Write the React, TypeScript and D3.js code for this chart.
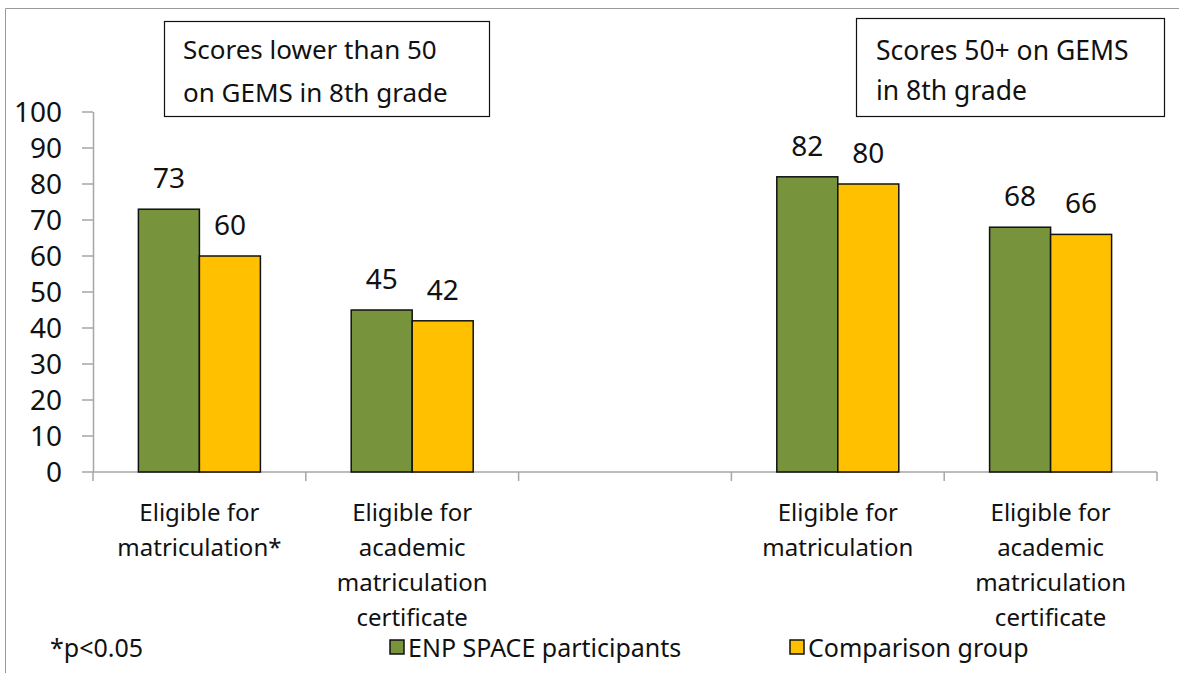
import React from "react";
import * as d3 from "d3";

const categories = [
  ["Eligible for", "matriculation*"],
  ["Eligible for", "academic", "matriculation", "certificate"],
  [],
  ["Eligible for", "matriculation"],
  ["Eligible for", "academic", "matriculation", "certificate"],
];
const participants: (number | null)[] = [73, 45, null, 82, 68];
const comparison: (number | null)[] = [60, 42, null, 80, 66];
const seriesNames = ["ENP SPACE participants", "Comparison group"];
const seriesColors = ["#77933C", "#FFC000"];
const yTicks = [0, 10, 20, 30, 40, 50, 60, 70, 80, 90, 100];
const boxLeft = ["Scores lower than 50", "on GEMS in 8th grade"];
const boxRight = ["Scores 50+ on GEMS", "in 8th grade"];
const footnote = "*p<0.05";

const FONT = "'Noto Sans', 'Open Sans', sans-serif";

export default function App() {
  const W = 1179, H = 673;
  const x0 = 93, x1 = 1157;
  const yScale = d3.scaleLinear().domain([0, 100]).range([472, 112]);
  const xBand = d3.scaleBand<number>().domain(d3.range(categories.length)).range([x0, x1]);
  const barW = 61;
  const series = [participants, comparison];

  return (
    <svg width={W} height={H} style={{ position: "absolute", left: 0, top: 0, background: "#fff" }} fontFamily={FONT}>
      {/* frame */}
      <line x1={5.5} y1={8.5} x2={W} y2={8.5} stroke="#9a9a9a" strokeWidth={1} />
      <line x1={5.5} y1={8.5} x2={5.5} y2={H} stroke="#9a9a9a" strokeWidth={1} />

      {/* y axis */}
      <line x1={x0 + 0.5} y1={yScale(100)} x2={x0 + 0.5} y2={yScale(0)} stroke="#a6a6a6" strokeWidth={1.5} />
      {yTicks.map((t) => (
        <g key={t}>
          <line x1={82} x2={x0} y1={yScale(t)} y2={yScale(t)} stroke="#a6a6a6" strokeWidth={1.5} />
          <text x={62} y={yScale(t)} dy="0.36em" textAnchor="end" fontSize={28} fill="#111">{t}</text>
        </g>
      ))}

      {/* x axis */}
      <line x1={x0} x2={x1} y1={yScale(0)} y2={yScale(0)} stroke="#a6a6a6" strokeWidth={1.5} />
      {d3.range(categories.length + 1).map((i) => {
        const xx = x0 + xBand.step() * i;
        return <line key={i} x1={xx} x2={xx} y1={yScale(0)} y2={yScale(0) + 9} stroke="#a6a6a6" strokeWidth={1.5} />;
      })}

      {/* bars */}
      {series.map((vals, s) =>
        vals.map((v, i) => {
          if (v == null) return null;
          const cx = (xBand(i) as number) + xBand.bandwidth() / 2;
          const bx = cx - barW + s * barW;
          return (
            <g key={`${s}-${i}`}>
              <rect x={bx} y={yScale(v)} width={barW} height={yScale(0) - yScale(v)} fill={seriesColors[s]} stroke="#111" strokeWidth={1.5} />
              <text x={bx + barW / 2} y={yScale(v) - 31} dy="0.36em" textAnchor="middle" fontSize={28} fill="#111">{v}</text>
            </g>
          );
        })
      )}

      {/* category labels */}
      {categories.map((lines, i) => {
        const cx = (xBand(i) as number) + xBand.bandwidth() / 2;
        return (
          <text key={i} x={cx} textAnchor="middle" fontSize={24} fill="#111">
            {lines.map((l, j) => (
              <tspan key={j} x={cx} y={512 + j * 35} dy="0.36em">{l}</tspan>
            ))}
          </text>
        );
      })}

      {/* annotation boxes */}
      <rect x={164.5} y={21.5} width={325} height={95} fill="#fff" stroke="#111" strokeWidth={1.2} />
      {boxLeft.map((l, j) => (
        <text key={j} x={183} y={50 + j * 43} dy="0.36em" fontSize={26} fill="#111">{l}</text>
      ))}
      <rect x={856.5} y={18.5} width={308} height={98} fill="#fff" stroke="#111" strokeWidth={1.2} />
      {boxRight.map((l, j) => (
        <text key={j} x={876} y={50 + j * 40} dy="0.36em" fontSize={26.5} fill="#111">{l}</text>
      ))}

      {/* footer / legend */}
      <text x={50} y={648} dy="0.36em" fontSize={25} fill="#111">{footnote}</text>
      {seriesNames.map((n, s) => {
        const lx = s === 0 ? 390 : 790;
        return (
          <g key={n}>
            <rect x={lx} y={640} width={14} height={14} fill={seriesColors[s]} stroke="#111" strokeWidth={1.5} />
            <text x={lx + 18} y={648} dy="0.36em" fontSize={25} fill="#111">{n}</text>
          </g>
        );
      })}
    </svg>
  );
}
